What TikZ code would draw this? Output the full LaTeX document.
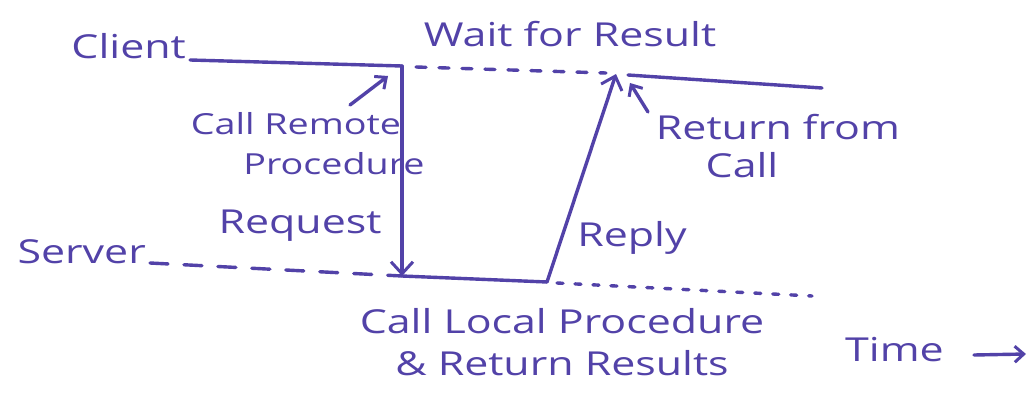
\documentclass[tikz,border=0pt]{standalone}
\usepackage{fontspec}
\setmainfont{Open Sans}[FakeStretch=1.3]
\usetikzlibrary{arrows.meta,calc}
\definecolor{ink}{RGB}{82,66,168}
\tikzset{
  pen/.style={draw=ink, line width=3.4pt, line cap=round, line join=round},
  dashpen/.style={pen, dash pattern=on 10pt off 13pt},
  dotpen/.style={pen, dash pattern=on 6pt off 12pt},
  hand/.style={text=ink, font=\fontsize{33}{42}\selectfont, inner sep=0pt, align=center},
  smallhand/.style={hand, font=\fontsize{29}{36}\selectfont},
  barb/.style={-{Straight Barb[length=12pt,width=22pt,line width=3pt]}},
  smallbarb/.style={-{Straight Barb[length=9pt,width=16pt,line width=3pt]}}
}
\begin{document}
\begin{tikzpicture}[x=1pt,y=-1pt]
\useasboundingbox[fill=white] (0,0) rectangle (1034,396);

% process labels
\node[hand, anchor=east] (client) at (186,46) {Client};
\node[hand, anchor=east] (server) at (146,252) {Server};

% client time line
\coordinate (c1) at (190,60);
\coordinate (c2) at (402,66);
\coordinate (c2d) at (416,67);
\coordinate (c3d) at (606,73);
\coordinate (c3) at (616,74);
\coordinate (c3s) at (628,75);
\coordinate (c4) at (822,88);

% server time line
\coordinate (s0) at (150,263);
\coordinate (s1) at (402,276);
\coordinate (s2) at (547,282);
\coordinate (s2d) at (557,283);
\coordinate (s3) at (812,296);

\draw[pen] (c1) -- (c2);
\draw[dashpen] (c2d) -- (c3d);
\draw[pen] (c3s) -- (c4);

\draw[dashpen, dash pattern=on 18pt off 16pt] (s0) -- (s1);
\draw[pen] (s1) -- (s2);
\draw[dotpen] (s2d) -- (s3);

% request and reply messages
\draw[pen, barb] (c2) -- (s1);
\draw[pen, barb] (s2) -- (c3);

% annotations
\node[hand] (wait) at (570,34) {Wait for Result};
\node[smallhand] (callremote) at (296,124) {Call Remote};
\node[smallhand] (procedure) at (334,164) {Procedure};
\node[hand] (request) at (300,226) {Request};
\node[hand] (reply) at (632,238) {Reply};
\node[hand] (returnfrom) at (778,127) {Return from};
\node[hand] (call) at (742,165) {Call};
\node[hand] (local) at (562,342) {Call Local Procedure\\\& Return Results};
\node[hand, anchor=west] (time) at (845,350) {Time};

% pointer arrows
\coordinate (p1a) at (350,105);
\coordinate (p1b) at (388,76);
\coordinate (p2a) at (648,112);
\coordinate (p2b) at (630,83);
\coordinate (t0) at ($(time.east)+(30,5)$);
\coordinate (t1) at ($(time.east)+(82,4)$);

\draw[pen, smallbarb] (p1a) -- (p1b);
\draw[pen, smallbarb] (p2a) -- (p2b);
\draw[pen, smallbarb] (t0) -- (t1);
\end{tikzpicture}
\end{document}
